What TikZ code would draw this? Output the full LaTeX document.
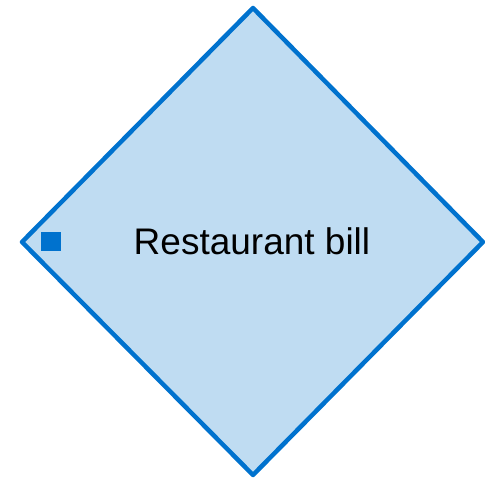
\documentclass[tikz,border=0pt]{standalone}
\usepackage{fontspec}
\setmainfont{Liberation Sans}
\definecolor{edgeblue}{HTML}{0072CE}
\definecolor{fillblue}{HTML}{BFDCF2}
\begin{document}
\begin{tikzpicture}[x=1pt, y=-1pt, line cap=round, line join=round, font=\fontsize{37}{40}\selectfont]
			\useasboundingbox (0,0) rectangle (485,478);
			\coordinate (top) at (253,8);
			\coordinate (left) at (22,242);
			\coordinate (bottom) at (253,475);
			\coordinate (right) at (483,242);
			\filldraw[draw=edgeblue, fill=fillblue, line width=4.5pt] (top)--(right)--(bottom)--(left)--cycle;
			\fill[edgeblue] (41,232) rectangle (61,251);
			\node (bill) at (252,241) {Restaurant bill};
		\end{tikzpicture}
\end{document}
